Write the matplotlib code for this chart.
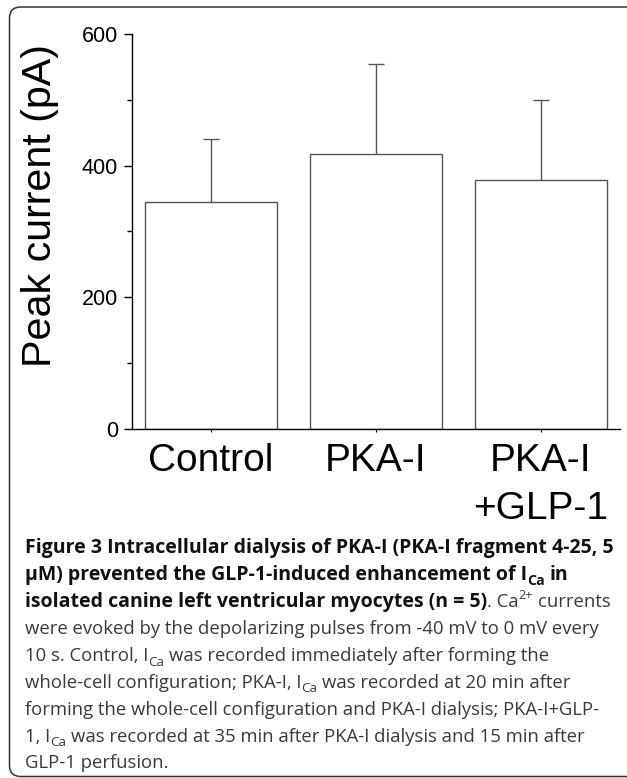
import matplotlib
matplotlib.use("Agg")
import matplotlib.pyplot as plt
from matplotlib.patches import PathPatch
from matplotlib.path import Path
from matplotlib.transforms import IdentityTransform

# data
groups = ["Control", "PKA-I", "PKA-I\n+GLP-1"]
peak_mean = [345, 417, 378]
peak_sd = [95, 138, 122]
y_major = [0, 200, 400, 600]
y_minor = [100, 300, 500]

# caption, one list of (text, style) per printed line
# styles: b bold, r regular, bs/rs subscript, rp superscript
caption = [
    [("Figure 3 Intracellular dialysis of PKA-I (PKA-I fragment 4-25, 5", "b")],
    [("\u03bcM) prevented the GLP-1-induced enhancement of I", "b"), ("Ca", "bs"), (" in", "b")],
    [("isolated canine left ventricular myocytes (n = 5)", "b"), (". Ca", "r"), ("2+", "rp"), (" currents", "r")],
    [("were evoked by the depolarizing pulses from -40 mV to 0 mV every", "r")],
    [("10 s. Control, I", "r"), ("Ca", "rs"), (" was recorded immediately after forming the", "r")],
    [("whole-cell configuration; PKA-I, I", "r"), ("Ca", "rs"), (" was recorded at 20 min after", "r")],
    [("forming the whole-cell configuration and PKA-I dialysis; PKA-I+GLP-", "r")],
    [("1, I", "r"), ("Ca", "rs"), (" was recorded at 35 min after PKA-I dialysis and 15 min after", "r")],
    [("GLP-1 perfusion.", "r")],
]

W, H = 627, 778
plt.rcParams["font.family"] = ["Liberation Sans", "DejaVu Sans"]
fig = plt.figure(figsize=(W / 100, H / 100), dpi=100)

# frame: top, left and bottom edges with rounded left corners, right side off the image
x0, y0, y1, r = 9.5, 1.5, H - 7, 11
verts = [(W + 20, y1), (x0 + r, y1), (x0, y1), (x0, y1 - r), (x0, y0 + r), (x0, y0), (x0 + r, y0), (W + 20, y0)]
codes = [Path.MOVETO, Path.LINETO, Path.CURVE3, Path.CURVE3, Path.LINETO, Path.CURVE3, Path.CURVE3, Path.LINETO]
frame = PathPatch(Path(verts, codes), transform=IdentityTransform(), fill=False,
                  edgecolor="#333333", linewidth=1.1)
fig.add_artist(frame)

ax = fig.add_axes([132 / W, 1 - 429 / H, (620 - 132) / W, (429 - 34) / H])
x = list(range(len(groups)))
ax.errorbar(x, peak_mean, yerr=peak_sd, fmt="none", ecolor="#555555", elinewidth=1.0,
            capsize=5.5, capthick=1.0, zorder=1)
ax.bar(x, peak_mean, width=0.8, color="white", edgecolor="#555555", linewidth=1.0, zorder=2)

ax.set_xlim(-0.477, 2.48)
ax.set_ylim(0, 600)
for s in ["top", "right"]:
    ax.spines[s].set_visible(False)
for s in ["left", "bottom"]:
    ax.spines[s].set_linewidth(1.0)
    ax.spines[s].set_zorder(3)

ax.set_yticks(y_major)
ax.set_yticks(y_minor, minor=True)
ax.tick_params(axis="y", which="major", length=6, width=1.0, labelsize=15.5, pad=4)
ax.tick_params(axis="y", which="minor", length=3.5, width=1.0)
ax.set_xticks(x)
ax.set_xticklabels(groups, fontsize=28)
for t in ax.get_xticklabels():
    t.set_linespacing(1.42)
ax.tick_params(axis="x", length=2, width=0.8, pad=8)

fig.text(40, H - 205.5, "Peak current (pA)", transform=IdentityTransform(), rotation=90,
         ha="center", va="center", fontsize=29.7)

# caption drawing
renderer = fig.canvas.get_renderer()
cap_font = ["Open Sans", "DejaVu Sans"]


def measure(s, size, weight):
    t = fig.text(0, 0, s, transform=IdentityTransform(), fontsize=size, fontweight=weight, family=cap_font)
    w = t.get_window_extent(renderer).width
    t.remove()
    return w


def draw_line(segs, x0, y0, sizes, draw=True):
    xpos = x0
    for s, st in segs:
        weight = "bold" if st.startswith("b") else "normal"
        size = sizes[st[0]]
        color = "#111111" if weight == "bold" else "#3a3a3a"
        dy = 0
        if st.endswith("s"):
            size *= 0.72
            dy = -0.25 * sizes[st[0]] * 100 / 72
        elif st.endswith("p"):
            size *= 0.68
            dy = 0.45 * sizes[st[0]] * 100 / 72
        sp = measure("a a", size, weight) - measure("aa", size, weight)
        core = s.strip(" ")
        lead = len(s) - len(s.lstrip(" "))
        trail = len(s) - len(s.rstrip(" "))
        xpos += lead * sp
        if draw:
            fig.text(xpos, y0 + dy, core, transform=IdentityTransform(), fontsize=size,
                     fontweight=weight, family=cap_font, color=color, va="baseline", ha="left")
        xpos += measure(core, size, weight) + trail * sp
    return xpos - x0


trial = {"b": 10, "r": 10}
b_size = 10 * 590 / draw_line(caption[0], 0, 0, trial, draw=False)
r_size = 10 * 574 / draw_line(caption[6], 0, 0, trial, draw=False)
sizes = {"b": b_size, "r": r_size}

for i, line in enumerate(caption):
    draw_line(line, 25, H - (553.3 + 26.9 * i), sizes)

fig.savefig("out.png", dpi=100)
